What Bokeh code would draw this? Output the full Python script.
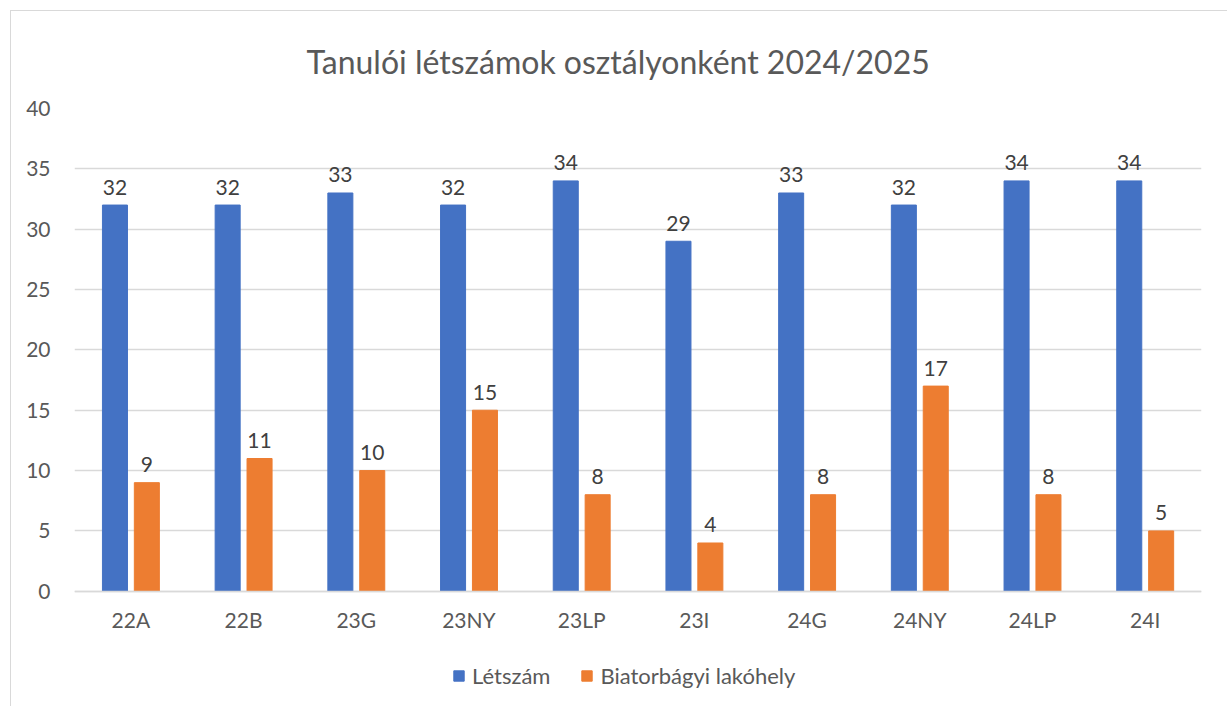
from bokeh.plotting import figure
from bokeh.models import Range1d, FactorRange, FixedTicker, Legend, LegendItem, ColumnDataSource
from bokeh.transform import dodge
from bokeh.core.properties import value
from bokeh.embed import file_html
from bokeh.resources import INLINE

classes = ["22A", "22B", "23G", "23NY", "23LP", "23I", "24G", "24NY", "24LP", "24I"]
letszam = [32, 32, 33, 32, 34, 29, 33, 32, 34, 34]
biatorbagyi = [9, 11, 10, 15, 8, 4, 8, 17, 8, 5]
y_ticks = [0, 5, 10, 15, 20, 25, 30, 35, 40]
title_text = "Tanulói létszámok osztályonként 2024/2025"
series_names = ["Létszám", "Biatorbágyi lakóhely"]

FONT = "Lato"
GRAY = "#595959"
BLUE = "#4472C4"
ORANGE = "#ED7D31"

src = ColumnDataSource(dict(
    cls=classes, a=letszam, b=biatorbagyi,
    at=[str(v) for v in letszam], bt=[str(v) for v in biatorbagyi],
))

# frame runs to the bottom edge so the category labels and legend sit inside it
p = figure(width=1217, height=696,
           x_range=FactorRange(*classes, range_padding=0),
           y_range=Range1d(-9.63, 40), output_backend="svg", toolbar_location=None,
           min_border_left=63, min_border_right=27, min_border_top=97, min_border_bottom=0)
p.styles = {"margin-left": "10px", "margin-top": "10px",
            "border-left": "1px solid #D9D9D9", "border-top": "1px solid #D9D9D9"}

p.title.text = title_text
p.title.align = "left"
p.title.offset = 232
p.title.text_font = FONT
p.title.text_font_size = "32px"
p.title.text_font_style = "normal"
p.title.text_color = GRAY
p.title.standoff = 56

p.outline_line_color = None
p.xgrid.grid_line_color = None
p.ygrid.grid_line_color = "#D9D9D9"
p.ygrid.grid_line_width = 1.3
p.yaxis.ticker = FixedTicker(ticks=y_ticks)
p.yaxis.axis_line_color = None
p.yaxis.major_tick_line_color = None
p.yaxis.minor_tick_line_color = None
p.yaxis.major_label_text_font = FONT
p.yaxis.major_label_text_font_size = "21px"
p.yaxis.major_label_text_color = GRAY
p.yaxis.major_label_standoff = 18

p.xaxis.fixed_location = 0
p.xaxis.axis_line_color = "#D9D9D9"
p.xaxis.axis_line_width = 1.3
p.xaxis.major_tick_line_color = None
p.xaxis.minor_tick_line_color = None
p.xaxis.major_label_text_font = FONT
p.xaxis.major_label_text_font_size = "21px"
p.xaxis.major_label_text_color = GRAY
p.xaxis.major_label_standoff = 10

r1 = p.vbar(x=dodge("cls", -0.141, range=p.x_range), top="a", width=0.222, source=src,
            fill_color=BLUE, line_color=BLUE)
r2 = p.vbar(x=dodge("cls", 0.142, range=p.x_range), top="b", width=0.222, source=src,
            fill_color=ORANGE, line_color=ORANGE)

p.text(x=dodge("cls", -0.141, range=p.x_range), y="a", text="at", source=src,
       text_align="center", text_baseline="alphabetic", y_offset=-18,
       text_font=value(FONT), text_font_size="21px", text_color="#404040")
p.text(x=dodge("cls", 0.142, range=p.x_range), y="b", text="bt", source=src,
       text_align="center", text_baseline="alphabetic", y_offset=-18,
       text_font=value(FONT), text_font_size="21px", text_color="#404040")

legend = Legend(items=[LegendItem(label=series_names[0], renderers=[r1]),
                       LegendItem(label=series_names[1], renderers=[r2])],
                orientation="horizontal", location=(378, 18),
                glyph_width=13, glyph_height=13, label_standoff=7, spacing=30,
                label_text_font=FONT, label_text_font_size="22px", label_text_color=GRAY,
                border_line_color=None, background_fill_alpha=0, padding=0, margin=0)
p.add_layout(legend, "center")

open("out.html", "w").write(file_html(p, INLINE))
